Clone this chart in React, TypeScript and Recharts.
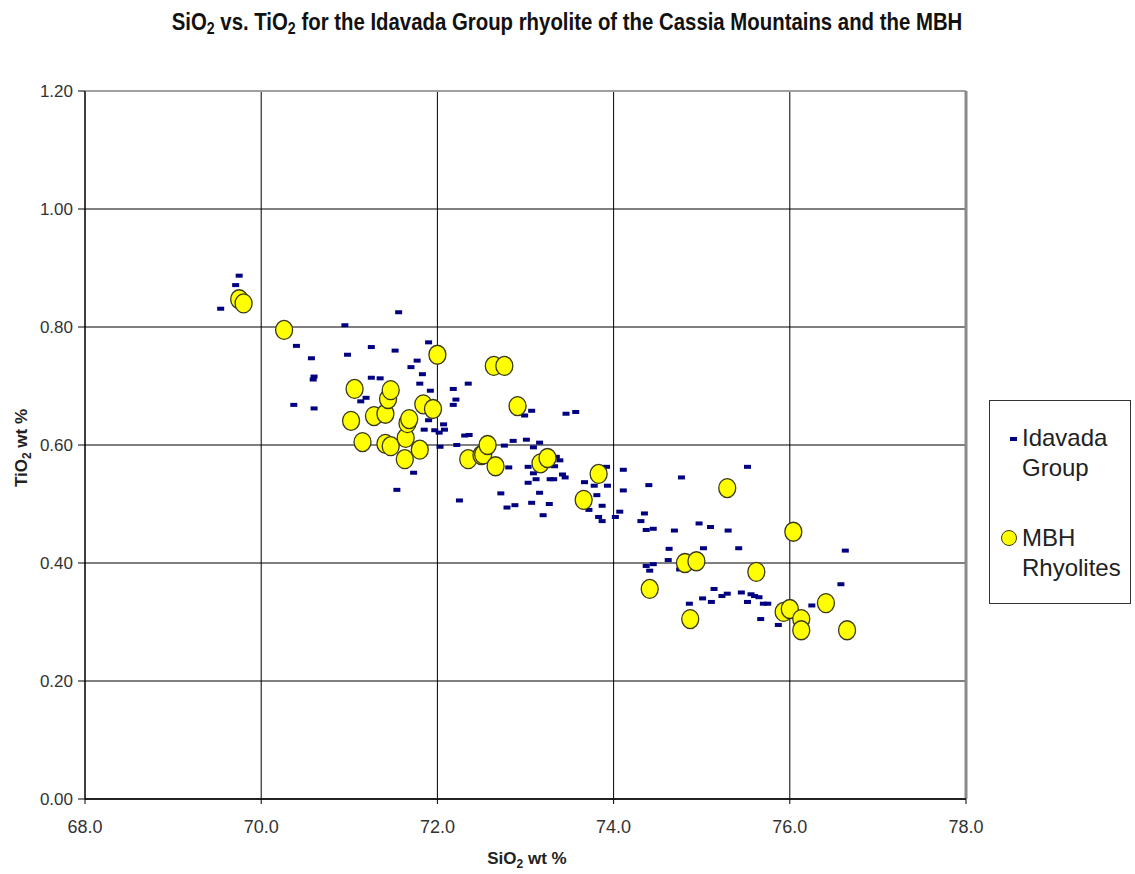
import { ScatterChart, Scatter, XAxis, YAxis, CartesianGrid, ReferenceLine } from "recharts";

// Idavada Group rhyolite analyses (SiO2 wt %, TiO2 wt %)
const idavadaSiO2 = [
  69.75, 69.71, 69.54, 71.56, 70.95, 70.4, 70.57, 70.98, 71.25, 71.52,
  71.9, 71.77, 71.7, 71.83, 71.8, 70.6, 70.59, 71.25, 71.35, 71.92,
  72.18, 72.21, 72.18, 71.19, 71.13, 70.37, 70.6, 71.9, 72.07, 71.85,
  71.97, 72.02, 72.08, 72.22, 72.03, 71.73, 71.54, 72.35, 73.07, 72.99,
  73.46, 73.57, 72.31, 72.36, 72.76, 72.86, 73.01, 73.16, 73.09, 73.35,
  73.39, 72.81, 73.03, 73.33, 73.09, 73.42, 73.45, 73.12, 73.28, 73.32,
  73.03, 73.67, 73.78, 73.93, 73.92, 74.11, 74.77, 74.4, 74.11, 72.72,
  73.16, 73.81, 72.25, 72.88, 72.79, 73.07, 73.27, 73.87, 73.72, 74.07,
  73.2, 73.83, 73.87, 74.02, 74.35, 74.31, 74.97, 75.52, 74.37, 74.45,
  74.69, 75.1, 75.3, 75.42, 75.02, 74.63, 74.62, 74.75, 74.37, 74.45,
  74.41, 75.14, 75.01, 75.11, 75.23, 75.29, 75.45, 75.56, 75.6, 75.65,
  75.52, 75.7, 75.75, 74.86, 76.25, 75.67, 76.63, 76.58, 75.87,
];
const idavadaTiO2 = [
  0.887, 0.871, 0.831, 0.825, 0.803, 0.768, 0.747, 0.753, 0.766, 0.76,
  0.774, 0.743, 0.732, 0.72, 0.704, 0.716, 0.711, 0.714, 0.713, 0.692,
  0.695, 0.677, 0.668, 0.68, 0.674, 0.668, 0.662, 0.642, 0.635, 0.626,
  0.625, 0.621, 0.626, 0.6, 0.597, 0.553, 0.524, 0.704, 0.658, 0.65,
  0.653, 0.656, 0.616, 0.617, 0.599, 0.607, 0.609, 0.604, 0.596, 0.58,
  0.574, 0.562, 0.563, 0.564, 0.552, 0.55, 0.545, 0.542, 0.542, 0.542,
  0.536, 0.537, 0.531, 0.531, 0.563, 0.558, 0.545, 0.532, 0.523, 0.518,
  0.519, 0.515, 0.506, 0.498, 0.494, 0.502, 0.5, 0.497, 0.49, 0.487,
  0.481, 0.478, 0.471, 0.478, 0.484, 0.471, 0.467, 0.563, 0.456, 0.458,
  0.455, 0.461, 0.455, 0.425, 0.425, 0.424, 0.405, 0.389, 0.395, 0.398,
  0.387, 0.356, 0.34, 0.334, 0.344, 0.348, 0.35, 0.347, 0.344, 0.342,
  0.334, 0.331, 0.331, 0.331, 0.328, 0.305, 0.421, 0.364, 0.295,
];

// MBH rhyolite analyses
const mbhSiO2 = [
  69.75, 69.8, 70.26, 71.06, 71.02, 71.15, 71.28, 71.41, 71.44, 71.47,
  71.41, 71.47, 71.64, 71.63, 71.66, 71.68, 71.8, 71.84, 71.95, 72.0,
  72.35, 72.5, 72.52, 72.57, 72.64, 72.76, 72.66, 72.91, 73.17, 73.25,
  73.66, 73.83, 74.41, 74.81, 74.94, 74.87, 75.29, 75.62, 75.93, 76.0,
  76.04, 76.13, 76.13, 76.41, 76.65,
];
const mbhTiO2 = [
  0.847, 0.84, 0.795, 0.695, 0.641, 0.605, 0.649, 0.653, 0.678, 0.693,
  0.602, 0.598, 0.612, 0.576, 0.637, 0.644, 0.592, 0.669, 0.661, 0.753,
  0.576, 0.583, 0.584, 0.6, 0.734, 0.734, 0.564, 0.666, 0.569, 0.578,
  0.507, 0.551, 0.356, 0.4, 0.403, 0.305, 0.527, 0.385, 0.317, 0.322,
  0.453, 0.305, 0.286, 0.332, 0.286,
];

const xTicks = [68, 70, 72, 74, 76, 78];
const yTicks = [0, 0.2, 0.4, 0.6, 0.8, 1.0, 1.2];

const idavada = idavadaSiO2.map((x, i) => ({ x, y: idavadaTiO2[i] }));
const mbh = mbhSiO2.map((x, i) => ({ x, y: mbhTiO2[i] }));

const SANS = "'Liberation Sans', Arial, sans-serif";

const Dash = (props: any) => (
  <rect x={props.cx - 3.5} y={props.cy - 2} width={7} height={4} fill="#000080" />
);

const Dot = (props: any) => (
  <ellipse cx={props.cx} cy={props.cy} rx={8.5} ry={9.5} fill="#ffff00" stroke="#3a3a1a" strokeWidth={1.3} />
);

export default function App() {
  return (
    <div style={{ position: "absolute", left: 0, top: 0, width: 1135, height: 874, background: "#fff" }}>
      <ScatterChart width={1135} height={874} margin={{ top: 91, right: 169, bottom: 45, left: 25 }}>
        <CartesianGrid stroke="#000" strokeWidth={1} />
        <XAxis
          type="number"
          dataKey="x"
          domain={[68, 78]}
          ticks={xTicks}
          tickFormatter={(v: number) => v.toFixed(1)}
          height={30}
          tickSize={5}
          tickMargin={16}
          axisLine={{ stroke: "#222", strokeWidth: 2 }}
          tickLine={{ stroke: "#000" }}
          tick={{ fill: "#333", fontSize: 18, fontFamily: SANS }}
        />
        <YAxis
          type="number"
          dataKey="y"
          domain={[0, 1.2]}
          ticks={yTicks}
          tickFormatter={(v: number) => v.toFixed(2)}
          width={60}
          tickSize={7}
          tickMargin={5}
          axisLine={{ stroke: "#000" }}
          tickLine={{ stroke: "#000" }}
          tick={{ fill: "#333", fontSize: 17, fontFamily: SANS }}
        />
        <ReferenceLine y={1.2} stroke="#a0a0a0" strokeWidth={2} />
        <ReferenceLine x={78} stroke="#8a8a8a" strokeWidth={3} />
        <Scatter name="Idavada Group" data={idavada} shape={Dash} isAnimationActive={false} />
        <Scatter name="MBH Rhyolites" data={mbh} shape={Dot} isAnimationActive={false} />
        {/* condensed bold title */}
        <g transform="translate(567 30) scale(0.886 1)">
          <text x={0} y={0} textAnchor="middle" fontFamily={SANS} fontWeight="bold" fontSize={23} fill="#111">
            SiO<tspan dy={4} fontSize={16}>2</tspan>
            <tspan dy={-4}> vs. TiO</tspan>
            <tspan dy={4} fontSize={16}>2</tspan>
            <tspan dy={-4}> for the Idavada Group rhyolite of the Cassia Mountains and the MBH</tspan>
          </text>
        </g>
        <text x={527} y={864} textAnchor="middle" fontFamily={SANS} fontWeight="bold" fontSize={17} fill="#222">
          SiO<tspan dy={4} fontSize={12}>2</tspan>
          <tspan dy={-4}> wt %</tspan>
        </text>
        <text
          x={27}
          y={448}
          textAnchor="middle"
          transform="rotate(-90 27 448)"
          fontFamily={SANS}
          fontWeight="bold"
          fontSize={17}
          fill="#222"
        >
          TiO<tspan dy={4} fontSize={12}>2</tspan>
          <tspan dy={-4}> wt %</tspan>
        </text>
      </ScatterChart>

      <div
        style={{
          position: "absolute",
          left: 989,
          top: 400,
          width: 142,
          height: 204,
          boxSizing: "border-box",
          border: "1px solid #333",
          background: "#fff",
          fontFamily: SANS,
          fontSize: 24,
          color: "#222",
          lineHeight: "30px",
        }}
      >
        <div style={{ position: "absolute", left: 32, top: 22 }}>
          Idavada
          <br />
          Group
        </div>
        <div style={{ position: "absolute", left: 20, top: 36, width: 7, height: 4, background: "#000080" }} />
        <div style={{ position: "absolute", left: 32, top: 122 }}>
          MBH
          <br />
          Rhyolites
        </div>
        <div
          style={{
            position: "absolute",
            left: 11,
            top: 129,
            width: 16,
            height: 16,
            borderRadius: "50%",
            background: "#ffff00",
            border: "1.3px solid #3a3a1a",
            boxSizing: "border-box",
          }}
        />
      </div>
    </div>
  );
}
